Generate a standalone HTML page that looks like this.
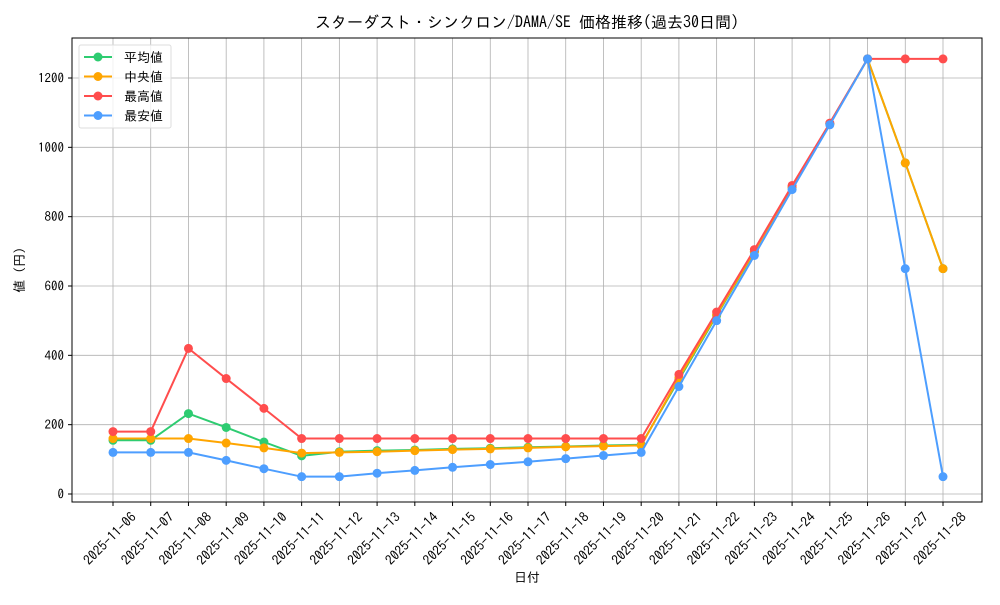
<!DOCTYPE html>
<html><head><meta charset="utf-8">
<style>
body{margin:0;background:#fff;}
svg text{font-family:"IPAGothic","Noto Sans CJK JP",monospace;fill:#000;}
</style></head>
<body>
<svg id="chart" width="1000" height="600" xmlns="http://www.w3.org/2000/svg">
<text x="527" y="28" font-size="16" text-anchor="middle">スターダスト・シンクロン/DAMA/SE 価格推移(過去30日間)</text>
<g id="grid"></g>
<g id="axes"></g>
<g id="series"></g>
<text x="527" y="582" font-size="13" text-anchor="middle">日付</text>
<text x="24" y="270" font-size="13" text-anchor="middle" transform="rotate(-90 24 270)">値 (円)</text>
<g>
<rect x="79" y="45" width="92" height="83" fill="#fff" fill-opacity="0.8" stroke="#ddd" rx="2"/>
<g id="legend-items"></g>
</g>
</svg>
<script>
const dates=["2025-11-06","2025-11-07","2025-11-08","2025-11-09","2025-11-10","2025-11-11","2025-11-12","2025-11-13","2025-11-14","2025-11-15","2025-11-16","2025-11-17","2025-11-18","2025-11-19","2025-11-20","2025-11-21","2025-11-22","2025-11-23","2025-11-24","2025-11-25","2025-11-26","2025-11-27","2025-11-28"];
const meanVals=[155,155,232,192,150,110,122,125,127,130,132,135,137,140,142,330,515,698,885,1068,1255,955,650];
const medianVals=[160,160,160,147,133,118,120,122,125,128,130,133,136,138,140,335,518,700,885,1068,1255,955,650];
const maxVals=[180,180,420,333,247,160,160,160,160,160,160,160,160,160,160,345,525,705,890,1070,1255,1255,1255];
const minVals=[120,120,120,97,73,50,50,60,68,77,85,93,102,111,120,310,500,688,878,1065,1255,650,50];
const yTicks=[0,200,400,600,800,1000,1200];
const seriesNames=["平均値","中央値","最高値","最安値"];
const seriesColors=["#2ecc71","#ffa500","#ff4d4d","#4d9eff"];

const NS="http://www.w3.org/2000/svg";
const L=72,R=982,T=38,B=502;
const xs=i=>113+i*(943-113)/(dates.length-1);
const ys=v=>494-v*(416/1200);
function mk(tag,attrs,parent){const e=document.createElementNS(NS,tag);for(const k in attrs)e.setAttribute(k,attrs[k]);parent.appendChild(e);return e;}
const grid=document.getElementById('grid'),axes=document.getElementById('axes'),ser=document.getElementById('series');
dates.forEach((d,i)=>{
  const x=xs(i);
  const g=mk('line',{x1:x,x2:x,y1:T,y2:B,stroke:'#b0b0b0','stroke-width':0.8},grid);
  
  
  mk('line',{x1:x,x2:x,y1:B,y2:B+4,stroke:'#000'},axes);
  const ax=x+24, ay=B+16;
  const t=mk('text',{x:ax,y:ay,'font-size':13.5,'text-anchor':'end',transform:`rotate(-45 ${ax} ${ay})`},axes);
  
  
  t.textContent=d;
});
yTicks.forEach(v=>{
  const y=ys(v);
  const g=mk('line',{x1:L,x2:R,y1:y,y2:y,stroke:'#b0b0b0','stroke-width':0.8},grid);
  
  
  mk('line',{x1:L-4,x2:L,y1:y,y2:y,stroke:'#000'},axes);
  const t=mk('text',{x:L-8,y:y+4.5,'font-size':13,'text-anchor':'end'},axes);
  
  
  t.textContent=v;
});
const frame=mk('rect',{x:L,y:T,width:R-L,height:B-T,fill:'none',stroke:'#000','stroke-width':1},axes);


[meanVals,medianVals,maxVals,minVals].forEach((vals,si)=>{
  const c=seriesColors[si];
  const g=mk('g',{},ser);
  
  
  mk('polyline',{points:vals.map((v,i)=>xs(i)+','+ys(v)).join(' '),fill:'none',stroke:c,'stroke-width':2},g);
  vals.forEach((v,i)=>{
    const p=mk('circle',{cx:xs(i),cy:ys(v),r:4.5,fill:c},g);
    
    
  });
});
const li=document.getElementById('legend-items');
seriesNames.forEach((n,i)=>{
  const y=57+i*19.5;
  const g=mk('g',{},li);
  
  
  mk('line',{x1:84,x2:112,y1:y,y2:y,stroke:seriesColors[i],'stroke-width':2},g);
  mk('circle',{cx:98,cy:y,r:4.5,fill:seriesColors[i]},g);
  const t=mk('text',{x:124,y:y+5,'font-size':13},g);
  t.textContent=n;
});
</script>
</body></html>
